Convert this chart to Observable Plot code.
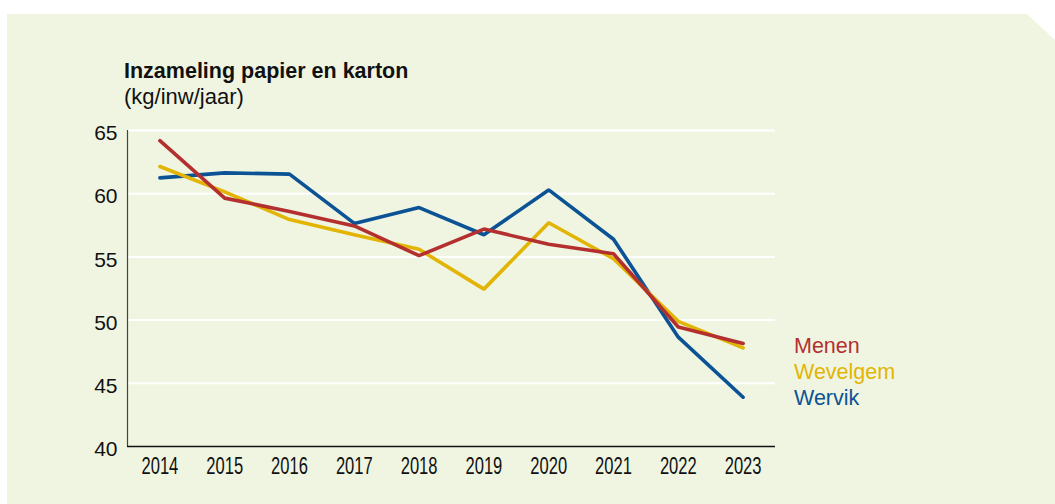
<!DOCTYPE html>
<html><head><meta charset="utf-8">
<script src="https://cdn.jsdelivr.net/npm/d3@7"></script>
<script src="https://cdn.jsdelivr.net/npm/@observablehq/plot@0.6"></script>
<style>
html,body{margin:0;padding:0;background:#fff;}
#wrap{position:relative;width:1055px;height:504px;overflow:hidden;font-family:"Liberation Sans",Arial,sans-serif;}
#panel{position:absolute;left:7px;top:14px;width:1048px;height:490px;background:#f0f5e2;
  clip-path:polygon(0 0, 1020px 0, 1048px 26px, 1048px 490px, 0 490px);}
#title{position:absolute;left:124px;top:61px;font-size:21.5px;line-height:21px;font-weight:bold;color:#111;white-space:nowrap;}
#subtitle{position:absolute;left:124px;top:86px;font-size:22px;line-height:21px;color:#111;white-space:nowrap;}
#legend{position:absolute;left:794px;top:333px;font-size:21.5px;line-height:26px;white-space:nowrap;}
#chart{position:absolute;left:0;top:0;}
</style></head>
<body>
<div id="wrap">
  <div id="panel"></div>
  <div id="title">Inzameling papier en karton</div>
  <div id="subtitle">(kg/inw/jaar)</div>
  <div id="chart"></div>
  <div id="legend"></div>
</div>
<script>
const years = [2014, 2015, 2016, 2017, 2018, 2019, 2020, 2021, 2022, 2023];
const menen    = [64.2, 59.65, 58.6, 57.45, 55.1, 57.2, 56.0, 55.25, 49.45, 48.15];
const wevelgem = [62.15, 60.15, 57.95, 56.75, 55.6, 52.45, 57.7, 54.85, 49.9, 47.8];
const wervik   = [61.25, 61.65, 61.55, 57.65, 58.9, 56.75, 60.3, 56.4, 48.65, 43.9];
const seriesNames = ["Menen", "Wevelgem", "Wervik"];
const seriesColors = ["#b3302f", "#e2b505", "#0b5395"];
const yTicks = [40, 45, 50, 55, 60, 65];
const gridTicks = [45, 50, 55, 60, 65];

// draw order: Wervik bottom, Wevelgem, Menen on top
const data = [];
[["Wervik", wervik], ["Wevelgem", wevelgem], ["Menen", menen]].forEach(([name, vals]) => {
  years.forEach((yr, i) => data.push({series: name, year: yr, value: vals[i]}));
});

const chart = Plot.plot({
  width: 1055,
  height: 504,
  marginLeft: 127,
  marginRight: 280,
  marginTop: 130,
  marginBottom: 58,
  style: {background: "transparent", fontSize: "21px", fontFamily: "'Liberation Sans', Arial, sans-serif", color: "#111", overflow: "visible"},
  x: {domain: [2013.5, 2023.5]},
  y: {domain: [40, 65]},
  color: {domain: seriesNames, range: seriesColors},
  marks: [
    Plot.ruleY(gridTicks, {stroke: "white", strokeWidth: 2}),
    Plot.ruleX([2013.5], {y1: 40, y2: 65, stroke: "#444", strokeWidth: 1.2}),
    Plot.ruleY([40], {stroke: "#111", strokeWidth: 1.5}),
    Plot.axisX(years, {tickSize: 0, tickPadding: 11, fontSize: 23, tickFormat: d => String(d), label: null}),
    Plot.axisY(yTicks, {tickSize: 0, tickPadding: 10, dy: 3, label: null}),
    Plot.line(data, {x: "year", y: "value", z: "series", stroke: "series", strokeWidth: 3.6, strokeLinejoin: "miter"})
  ]
});
document.getElementById("chart").appendChild(chart);

// condensed x tick labels, as in the reference: append a horizontal scale to each label's own transform
d3.select(chart).selectAll('g[aria-label="x-axis tick label"] text').each(function() {
  const t = this.getAttribute("transform");
  if (t) {
    this.setAttribute("transform", t + " scale(0.72,1)");
  } else {
    const x = +(this.getAttribute("x") || 0), y = +(this.getAttribute("y") || 0);
    this.removeAttribute("x"); this.removeAttribute("y");
    this.setAttribute("transform", `translate(${x},${y}) scale(0.72,1)`);
  }
});

const legend = document.getElementById("legend");
seriesNames.forEach((n, i) => {
  const d = document.createElement("div");
  d.textContent = n;
  d.style.color = seriesColors[i];
  legend.appendChild(d);
});
</script>
</body></html>
